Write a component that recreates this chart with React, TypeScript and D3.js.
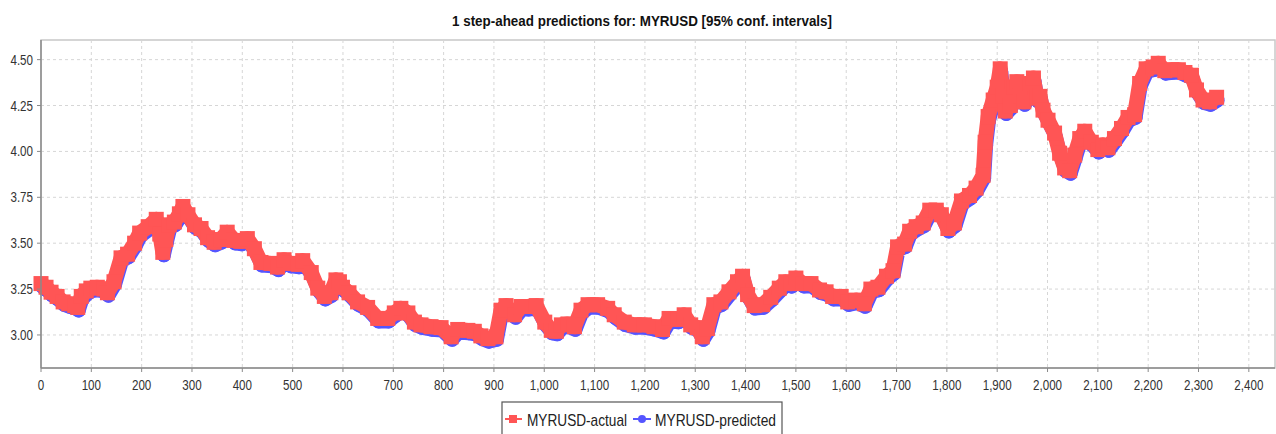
import * as d3 from 'd3';

const obsIdx = [
  0, 10, 20, 32, 44, 55, 67, 73, 80, 90, 99, 112, 125, 132, 145, 159, 172, 186, 196, 213,
  229, 236, 242, 248, 255, 265, 275, 282, 292, 305, 318, 331, 344, 357, 370, 384, 397, 410, 424, 437,
  457, 470, 483, 495, 511, 520, 537, 550, 563, 576, 586, 593, 599, 612, 629, 649, 669, 689, 702, 715,
  729, 742, 755, 775, 795, 815, 828, 848, 861, 874, 888, 904, 914, 924, 941, 954, 967, 984, 1001, 1014,
  1024, 1034, 1047, 1060, 1073, 1087, 1106, 1126, 1139, 1159, 1179, 1199, 1218, 1235, 1248, 1265, 1278, 1291, 1304, 1314,
  1324, 1337, 1351, 1367, 1384, 1394, 1404, 1417, 1434, 1450, 1467, 1480, 1490, 1500, 1514, 1530, 1547, 1560, 1573, 1590,
  1603, 1620, 1636, 1649, 1663, 1680, 1693, 1702, 1716, 1726, 1739, 1753, 1766, 1779, 1789, 1802, 1815, 1829, 1845, 1858,
  1872, 1876, 1882, 1892, 1900, 1906, 1912, 1916, 1926, 1934, 1939, 1946, 1953, 1966, 1972, 1979, 1985, 1991, 2001, 2014,
  2024, 2034, 2044, 2054, 2064, 2074, 2087, 2100, 2110, 2120, 2133, 2147, 2160, 2173, 2183, 2196, 2210, 2220, 2233, 2247,
  2260, 2273, 2286, 2296, 2309, 2322, 2336,
];

const actualVal = [
  3.28, 3.26, 3.233, 3.21, 3.18, 3.17, 3.16, 3.15, 3.21, 3.24, 3.255, 3.26, 3.25, 3.23, 3.29, 3.42, 3.44, 3.5, 3.555, 3.59,
  3.63, 3.55, 3.45, 3.52, 3.6, 3.615, 3.66, 3.7, 3.655, 3.6, 3.58, 3.53, 3.505, 3.52, 3.56, 3.515, 3.51, 3.525, 3.47, 3.395,
  3.39, 3.37, 3.41, 3.39, 3.385, 3.405, 3.34, 3.255, 3.21, 3.23, 3.3, 3.29, 3.26, 3.23, 3.18, 3.15, 3.09, 3.09, 3.12, 3.145,
  3.12, 3.07, 3.055, 3.045, 3.04, 2.99, 3.03, 3.025, 3.02, 2.995, 2.98, 2.99, 3.135, 3.16, 3.11, 3.155, 3.155, 3.16, 3.07, 3.025,
  3.02, 3.055, 3.06, 3.045, 3.135, 3.165, 3.165, 3.145, 3.11, 3.07, 3.055, 3.055, 3.045, 3.03, 3.09, 3.085, 3.11, 3.055, 3.04, 2.99,
  3.035, 3.165, 3.18, 3.235, 3.29, 3.32, 3.22, 3.16, 3.165, 3.205, 3.255, 3.29, 3.28, 3.31, 3.28, 3.28, 3.245, 3.235, 3.21, 3.21,
  3.18, 3.19, 3.17, 3.25, 3.26, 3.32, 3.35, 3.48, 3.495, 3.565, 3.59, 3.61, 3.68, 3.68, 3.655, 3.58, 3.61, 3.73, 3.76, 3.8,
  3.87, 4.05, 4.19, 4.28, 4.35, 4.45, 4.3, 4.22, 4.25, 4.35, 4.38, 4.3, 4.27, 4.37, 4.4, 4.29, 4.3, 4.225, 4.17, 4.1,
  3.99, 3.91, 3.895, 3.98, 4.07, 4.11, 4.05, 4.01, 4.035, 4.02, 4.07, 4.125, 4.185, 4.2, 4.37, 4.45, 4.46, 4.48, 4.44, 4.445,
  4.445, 4.43, 4.415, 4.335, 4.28, 4.27, 4.295,
];

// the one-step predictions sit on top of the actual series at this scale
const predictedVal = actualVal;

const xTicks = d3.range(0, 2401, 100);
const yTicks = [3.0, 3.25, 3.5, 3.75, 4.0, 4.25, 4.5];

const RED = '#ff5555';
const BLUE = '#5555ff';
const FONT = '"Liberation Sans", Arial, sans-serif';
const SQUEEZE = 0.8; // the original image is squashed horizontally

function NarrowText({ x, y, anchor = 'start', size, weight = 'normal', fill = '#333', children }: any) {
  return (
    <text
      transform={`translate(${x},${y}) scale(${SQUEEZE},1)`}
      textAnchor={anchor}
      fontFamily={FONT}
      fontSize={size}
      fontWeight={weight}
      fill={fill}
    >
      {children}
    </text>
  );
}

export default function App() {
  const width = 1276;
  const height = 434;
  const left = 41, right = 1275, top = 40, bottom = 368;

  const x = d3.scaleLinear().domain([0, 2452]).range([left, right]);
  const y = d3.scaleLinear().domain([2.82, 4.607]).range([bottom, top]);

  const actual = obsIdx.map((d, i) => [d, actualVal[i]] as [number, number]);
  const predicted = obsIdx.map((d, i) => [d, predictedVal[i]] as [number, number]);

  const line = d3.line<[number, number]>()
    .x(d => x(d[0]))
    .y(d => y(d[1]));

  const fmtX = d3.format(',');
  const fmtY = d3.format('.2f');

  return (
    <svg width={width} height={height} style={{ position: 'absolute', left: 0, top: 0, background: '#fff' }}>
      {/* title */}
      <text x={452} y={26} textLength={380} lengthAdjust="spacingAndGlyphs" fontFamily={FONT} fontWeight="bold" fontSize={15} fill="#111">
        1 step-ahead predictions for: MYRUSD [95% conf. intervals]
      </text>

      {/* plot background */}
      <rect x={left} y={top} width={right - left} height={bottom - top} fill="#fff" stroke="#c8c8c8" strokeWidth={1.5} />

      {/* grid */}
      {xTicks.slice(1).map(t => (
        <line key={'gx' + t} x1={x(t)} x2={x(t)} y1={top} y2={bottom} stroke="#d6d6d6" strokeDasharray="3,3" />
      ))}
      {yTicks.map(t => (
        <line key={'gy' + t} x1={left} x2={right} y1={y(t)} y2={y(t)} stroke="#d6d6d6" strokeDasharray="3,3" />
      ))}

      {/* predicted series (blue) drawn underneath */}
      <g transform="translate(1,3)">
        <path d={line(predicted) || ''} fill="none" stroke={BLUE} strokeWidth={14} strokeLinejoin="round" />
        {predicted.map((d, i) => (
          <circle key={'p' + i} cx={x(d[0])} cy={y(d[1])} r={7} fill={BLUE} />
        ))}
      </g>

      {/* actual series (red) */}
      <path d={line(actual) || ''} fill="none" stroke={RED} strokeWidth={15} strokeLinejoin="round" />
      {actual.map((d, i) => (
        <rect key={'a' + i} x={x(d[0]) - 7.5} y={y(d[1]) - 7.5} width={15} height={15} fill={RED} />
      ))}

      {/* axes */}
      <line x1={left} x2={left} y1={top} y2={bottom} stroke="#8a8a8a" strokeWidth={1.5} />
      <line x1={left} x2={right} y1={bottom} y2={bottom} stroke="#8a8a8a" strokeWidth={1.5} />

      {yTicks.map(t => (
        <g key={'ty' + t}>
          <line x1={left - 4} x2={left} y1={y(t)} y2={y(t)} stroke="#8a8a8a" />
          <NarrowText x={33} y={y(t) + 5} anchor="end" size={14.5}>{fmtY(t)}</NarrowText>
        </g>
      ))}
      {xTicks.map(t => (
        <g key={'tx' + t}>
          <line x1={x(t)} x2={x(t)} y1={bottom} y2={bottom + 4} stroke="#8a8a8a" />
          <NarrowText x={x(t)} y={390} anchor="middle" size={14.5}>{fmtX(t)}</NarrowText>
        </g>
      ))}

      {/* legend */}
      <rect x={502} y={402} width={280} height={40} fill="#fff" stroke="#555" strokeWidth={1.2} />
      <line x1={505} x2={522} y1={419} y2={419} stroke={RED} strokeWidth={2} />
      <rect x={509} y={415} width={8} height={8} fill={RED} />
      <text x={527} y={426} textLength={100} lengthAdjust="spacingAndGlyphs" fontFamily={FONT} fontSize={17} fill="#222">MYRUSD-actual</text>
      <line x1={633} x2={651} y1={419} y2={419} stroke={BLUE} strokeWidth={2} />
      <circle cx={642} cy={419} r={4} fill={BLUE} />
      <text x={655} y={426} textLength={121} lengthAdjust="spacingAndGlyphs" fontFamily={FONT} fontSize={17} fill="#222">MYRUSD-predicted</text>
    </svg>
  );
}
